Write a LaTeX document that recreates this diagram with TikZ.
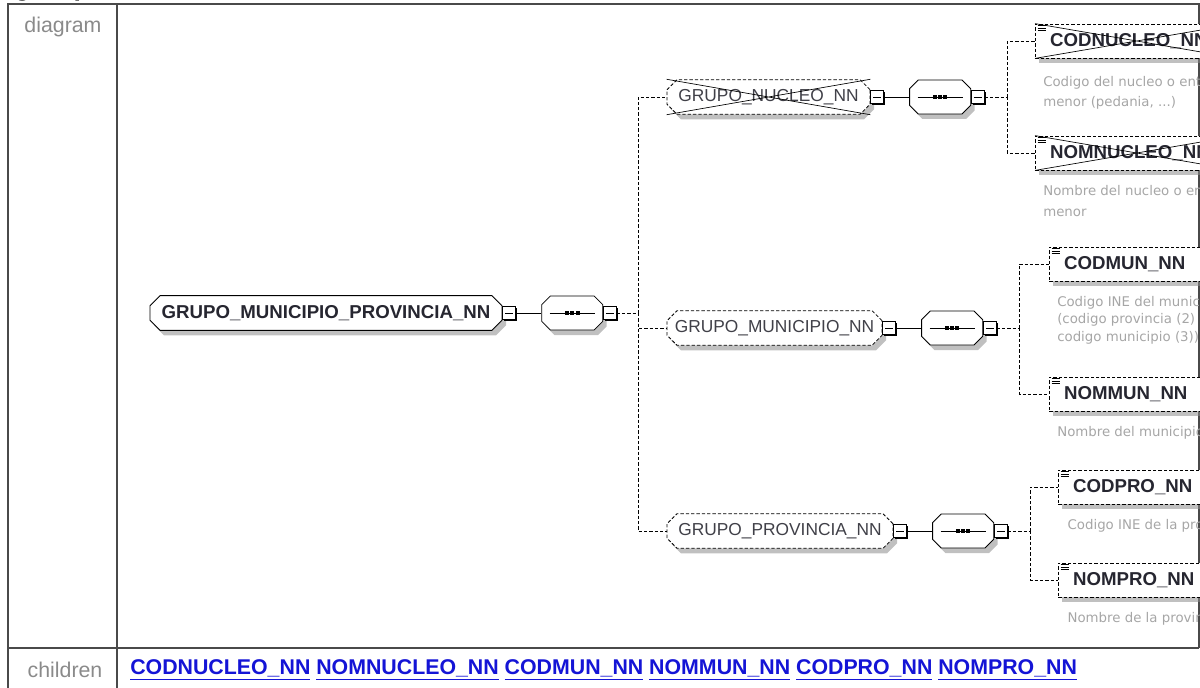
\documentclass[tikz,border=0pt]{standalone}
\usepackage{fontspec}
\setmainfont{Liberation Sans}
\newfontfamily\descfont{DejaVu Sans}
\usepackage{tikz}
\usetikzlibrary{positioning,calc,shapes.misc,shadows}
\definecolor{framegray}{HTML}{4A4A4A}
\definecolor{labelgray}{HTML}{8A8A8A}
\definecolor{descgray}{HTML}{A6A6A6}
\definecolor{textdark}{HTML}{262630}
\definecolor{grptext}{HTML}{404048}
\definecolor{linkblue}{HTML}{1414D6}

\tikzset{
  frame/.style={draw=framegray, line width=1.2pt},
  lbl/.style={anchor=base, inner sep=0pt, text=labelgray, font=\fontsize{16}{19}\selectfont},
  conn/.style={line width=0.6pt, dash pattern=on 2.5pt off 1.5pt},
  link/.style={line width=0.6pt},
  xline/.style={line width=0.5pt, solid},
  boxshadow/.style={drop shadow={shadow xshift=3pt, shadow yshift=-3.75pt, fill=black!45, opacity=0.55}},
  rootbox/.style={chamfered rectangle, chamfered rectangle xsep=4pt, draw, fill=white,
    line width=0.7pt, inner sep=0pt, minimum height=26pt, text=textdark,
    font=\fontsize{14}{16}\selectfont\bfseries, boxshadow},
  grpbox/.style={rootbox, conn, text=grptext, font=\fontsize{13}{15}\selectfont},
  minusbox/.style={draw, fill=white, line width=0.6pt, minimum size=9.5pt, inner sep=0pt,
    drop shadow={shadow xshift=1.1pt, shadow yshift=-1.1pt, fill=black, opacity=1},
    path picture={\draw[line width=0.6pt]
      ([xshift=1.8pt]path picture bounding box.west) -- ([xshift=-1.8pt]path picture bounding box.east);}},
  seqbox/.style={chamfered rectangle, chamfered rectangle xsep=3.5pt, chamfered rectangle ysep=3pt,
    draw, fill=white, line width=0.6pt, inner xsep=19.4pt, inner ysep=9.75pt,
    minimum width=0pt, minimum height=0pt, boxshadow,
    path picture={
      \draw[line width=0.7pt] ([xshift=6pt]path picture bounding box.west) -- ([xshift=-6pt]path picture bounding box.east);
      \foreach \dx in {-4pt,0pt,4pt}
        \fill[black] ([shift={(\dx-1.5pt,-1.5pt)}]path picture bounding box.center) rectangle +(3pt,3pt);}},
  leafbox/.style={rectangle, draw, conn, fill=white, anchor=west, minimum height=25.5pt,
    text width=130pt, align=left, inner xsep=11pt, inner ysep=0pt, text=textdark,
    font=\fontsize{14}{16}\selectfont\bfseries, boxshadow,
    path picture={\foreach \d in {1.2pt,2.9pt,4.6pt}
      \draw[line width=0.5pt, solid] ([shift={(1.6pt,-\d)}]path picture bounding box.north west) -- +(6pt,0);}},
  desc/.style={anchor=north west, inner sep=0pt, align=left, text=descgray,
    font=\descfont\fontsize{10}{13}\selectfont},
  lnk/.style={inner sep=0pt, text=linkblue, font=\fontsize{16}{19}\selectfont\bfseries}
}

\begin{document}
\begin{tikzpicture}[x=0.75pt, y=-0.75pt]
\useasboundingbox (0,0) rectangle (1200,688);
\clip (0,0) rectangle (1200,688);

% table frame
\node[anchor=base west, inner sep=0pt, font=\fontsize{20}{24}\selectfont\bfseries] (hdr) at (14,-4) {group GRUPO\_MUNICIPIO\_PROVINCIA\_NN};
\draw[frame] (8,688) -- (8,4) -- (1199,4) -- (1199,648);
\draw[frame] (117,4) -- (117,688);
\draw[frame] (8,648) -- (1199,648);
\node[lbl] (diag) at (63,33) {diagram};
\node[lbl] (chld) at (65,677) {children};

% root group
\node[rootbox, minimum width=264pt] (root) at (326,313) {GRUPO\_MUNICIPIO\_PROVINCIA\_NN};
\node[minusbox, right=0pt of root] (rootm) {};
\node[seqbox, right=19pt of rootm] (roots) {};
\node[minusbox, right=0pt of roots] (rootsm) {};
\draw[link] (rootm) -- (roots);
\coordinate (trunk) at (638,313);
\draw[conn] (rootsm) -- (trunk);

% the three sub groups
\node[grpbox, minimum width=152.25pt] (gnuc) at (768.5,97) {GRUPO\_NUCLEO\_NN};
\node[grpbox, minimum width=161.25pt] (gmun) at (774.5,328) {GRUPO\_MUNICIPIO\_NN};
\node[grpbox, minimum width=169.5pt] (gpro) at (780,531) {GRUPO\_PROVINCIA\_NN};
\draw[xline] (gnuc.west |- gnuc.north) -- (gnuc.east |- gnuc.south)
             (gnuc.west |- gnuc.south) -- (gnuc.east |- gnuc.north);
\draw[conn] (trunk) |- (gnuc);
\draw[conn] (trunk) |- (gmun);
\draw[conn] (trunk) |- (gpro);

\foreach \g in {gnuc,gmun,gpro} {
  \node[minusbox, right=0pt of \g] (\g m) {};
  \node[seqbox, right=19pt of \g m] (\g s) {};
  \node[minusbox, right=0pt of \g s] (\g sm) {};
  \draw[link] (\g m) -- (\g s);
  \coordinate (\g v) at ($(\g sm.east)+(17pt,0)$);
  \draw[conn] (\g sm) -- (\g v);
}

% leaf elements
\node[leafbox] (lcodnuc) at (1035,41) {CODNUCLEO\_NN};
\node[leafbox] (lnomnuc) at (1035,153) {NOMNUCLEO\_NN};
\node[leafbox] (lcodmun) at (1049,264) {CODMUN\_NN};
\node[leafbox] (lnommun) at (1049,394) {NOMMUN\_NN};
\node[leafbox] (lcodpro) at (1058,487) {CODPRO\_NN};
\node[leafbox] (lnompro) at (1058,580) {NOMPRO\_NN};
\foreach \l in {lcodnuc,lnomnuc}
  \draw[xline] (\l.north west) -- (\l.south east) (\l.south west) -- (\l.north east);

\draw[conn] (gnucv) |- (lcodnuc);
\draw[conn] (gnucv) |- (lnomnuc);
\draw[conn] (gmunv) |- (lcodmun);
\draw[conn] (gmunv) |- (lnommun);
\draw[conn] (gprov) |- (lcodpro);
\draw[conn] (gprov) |- (lnompro);

\node[desc, font=\descfont\fontsize{10}{15.5}\selectfont] (dcodnuc) at ([shift={(6pt,-13pt)}]lcodnuc.south west) {Codigo del nucleo o entidad\\menor (pedania, ...)};
\node[desc, font=\descfont\fontsize{10}{15.5}\selectfont] (dnomnuc) at ([shift={(6pt,-11pt)}]lnomnuc.south west) {Nombre del nucleo o entidad\\menor};
\node[desc] (dcodmun) at ([shift={(6pt,-11pt)}]lcodmun.south west) {Codigo INE del municipio\\(codigo provincia (2) +\\codigo municipio (3))};
\node[desc] (dnommun) at ([shift={(6pt,-11pt)}]lnommun.south west) {Nombre del municipio};
\node[desc] (dcodpro) at ([shift={(7pt,-11pt)}]lcodpro.south west) {Codigo INE de la provincia};
\node[desc] (dnompro) at ([shift={(7pt,-11pt)}]lnompro.south west) {Nombre de la provincia};

% children links
\node[lnk, anchor=west] (kcodnuc) at (130,670) {\underline{CODNUCLEO\_NN}};
\node[lnk, right=4pt of kcodnuc] (knomnuc) {\underline{NOMNUCLEO\_NN}};
\node[lnk, right=4pt of knomnuc] (kcodmun) {\underline{CODMUN\_NN}};
\node[lnk, right=4pt of kcodmun] (knommun) {\underline{NOMMUN\_NN}};
\node[lnk, right=4pt of knommun] (kcodpro) {\underline{CODPRO\_NN}};
\node[lnk, right=4pt of kcodpro] (knompro) {\underline{NOMPRO\_NN}};
\end{tikzpicture}
\end{document}
